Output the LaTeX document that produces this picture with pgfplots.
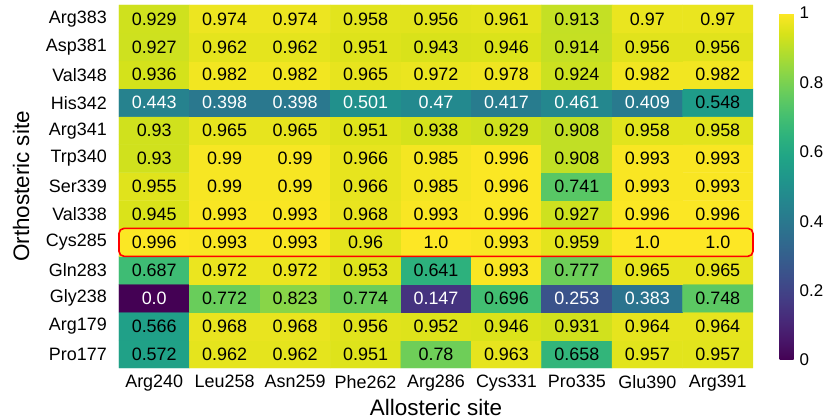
\documentclass[border=0pt]{standalone}
\usepackage{fontspec}
\setmainfont{Liberation Sans}
\usepackage{pgfplots}
\usepackage{pgfplotstable}
\pgfplotsset{compat=1.18}

% full matrix (x = allosteric column, y = orthosteric row from bottom)
\pgfplotstableread{
x y c
0 0 0.572
1 0 0.962
2 0 0.962
3 0 0.951
4 0 0.78
5 0 0.963
6 0 0.658
7 0 0.957
8 0 0.957
0 1 0.566
1 1 0.968
2 1 0.968
3 1 0.956
4 1 0.952
5 1 0.946
6 1 0.931
7 1 0.964
8 1 0.964
0 2 0.0
1 2 0.772
2 2 0.823
3 2 0.774
4 2 0.147
5 2 0.696
6 2 0.253
7 2 0.383
8 2 0.748
0 3 0.687
1 3 0.972
2 3 0.972
3 3 0.953
4 3 0.641
5 3 0.993
6 3 0.777
7 3 0.965
8 3 0.965
0 4 0.996
1 4 0.993
2 4 0.993
3 4 0.96
4 4 1.0
5 4 0.993
6 4 0.959
7 4 1.0
8 4 1.0
0 5 0.945
1 5 0.993
2 5 0.993
3 5 0.968
4 5 0.993
5 5 0.996
6 5 0.927
7 5 0.996
8 5 0.996
0 6 0.955
1 6 0.99
2 6 0.99
3 6 0.966
4 6 0.985
5 6 0.996
6 6 0.741
7 6 0.993
8 6 0.993
0 7 0.93
1 7 0.99
2 7 0.99
3 7 0.966
4 7 0.985
5 7 0.996
6 7 0.908
7 7 0.993
8 7 0.993
0 8 0.93
1 8 0.965
2 8 0.965
3 8 0.951
4 8 0.938
5 8 0.929
6 8 0.908
7 8 0.958
8 8 0.958
0 9 0.443
1 9 0.398
2 9 0.398
3 9 0.501
4 9 0.47
5 9 0.417
6 9 0.461
7 9 0.409
8 9 0.548
0 10 0.936
1 10 0.982
2 10 0.982
3 10 0.965
4 10 0.972
5 10 0.978
6 10 0.924
7 10 0.982
8 10 0.982
0 11 0.927
1 11 0.962
2 11 0.962
3 11 0.951
4 11 0.943
5 11 0.946
6 11 0.914
7 11 0.956
8 11 0.956
0 12 0.929
1 12 0.974
2 12 0.974
3 12 0.958
4 12 0.956
5 12 0.961
6 12 0.913
7 12 0.97
8 12 0.97
}\data

% cells whose value is written in black
\pgfplotstableread{
x y t
0 0 0.572
1 0 0.962
2 0 0.962
3 0 0.951
4 0 0.78
5 0 0.963
6 0 0.658
7 0 0.957
8 0 0.957
0 1 0.566
1 1 0.968
2 1 0.968
3 1 0.956
4 1 0.952
5 1 0.946
6 1 0.931
7 1 0.964
8 1 0.964
1 2 0.772
2 2 0.823
3 2 0.774
5 2 0.696
8 2 0.748
0 3 0.687
1 3 0.972
2 3 0.972
3 3 0.953
4 3 0.641
5 3 0.993
6 3 0.777
7 3 0.965
8 3 0.965
0 4 0.996
1 4 0.993
2 4 0.993
3 4 0.96
4 4 1.0
5 4 0.993
6 4 0.959
7 4 1.0
8 4 1.0
0 5 0.945
1 5 0.993
2 5 0.993
3 5 0.968
4 5 0.993
5 5 0.996
6 5 0.927
7 5 0.996
8 5 0.996
0 6 0.955
1 6 0.99
2 6 0.99
3 6 0.966
4 6 0.985
5 6 0.996
6 6 0.741
7 6 0.993
8 6 0.993
0 7 0.93
1 7 0.99
2 7 0.99
3 7 0.966
4 7 0.985
5 7 0.996
6 7 0.908
7 7 0.993
8 7 0.993
0 8 0.93
1 8 0.965
2 8 0.965
3 8 0.951
4 8 0.938
5 8 0.929
6 8 0.908
7 8 0.958
8 8 0.958
8 9 0.548
0 10 0.936
1 10 0.982
2 10 0.982
3 10 0.965
4 10 0.972
5 10 0.978
6 10 0.924
7 10 0.982
8 10 0.982
0 11 0.927
1 11 0.962
2 11 0.962
3 11 0.951
4 11 0.943
5 11 0.946
6 11 0.914
7 11 0.956
8 11 0.956
0 12 0.929
1 12 0.974
2 12 0.974
3 12 0.958
4 12 0.956
5 12 0.961
6 12 0.913
7 12 0.97
8 12 0.97
}\blacklabels

% cells whose value is written in white
\pgfplotstableread{
x y t
0 2 0.0
4 2 0.147
6 2 0.253
7 2 0.383
0 9 0.443
1 9 0.398
2 9 0.398
3 9 0.501
4 9 0.47
5 9 0.417
6 9 0.461
7 9 0.409
}\whitelabels

\begin{document}
\begin{tikzpicture}
\path[use as bounding box] (-119bp,-51bp) rectangle (709bp,368bp);
\begin{axis}[
  at={(0,0)}, anchor=south west,
  scale only axis, width=634bp, height=363bp,
  xmin=-0.5, xmax=8.5, ymin=-0.5, ymax=12.5,
  enlargelimits=false,
  axis line style={draw=none},
  major tick length=0pt,
  xtick={0,...,8},
  xticklabels={Arg240,Leu258,Asn259,Phe262,Arg286,Cys331,Pro335,Glu390,Arg391},
  ytick={0,...,12},
  yticklabels={Pro177,Arg179,Gly238,Gln283,Cys285,Val338,Ser339,Trp340,Arg341,His342,Val348,Asp381,Arg383},
  ticklabel style={font=\fontsize{18}{18}\selectfont},
  xticklabel style={anchor=north, inner sep=0pt, yshift=-7bp},
  yticklabel style={anchor=east, inner sep=0pt, xshift=-12bp},
  /pgf/number format/assume math mode=true,
  xlabel={Allosteric site},
  ylabel={Orthosteric site},
  every axis x label/.style={at={(axis description cs:0.5,0)}, anchor=north, yshift=-31bp, inner sep=0pt, font=\fontsize{22.5}{22.5}\selectfont},
  every axis y label/.style={at={(axis description cs:-0.141,0.5)}, rotate=90, anchor=south, inner sep=0pt, font=\fontsize{22.5}{22.5}\selectfont},
  colormap/viridis,
  point meta min=0, point meta max=1,
  clip=false,
  colorbar right,
  colorbar style={
    scale only axis,
    at={(parent axis.south east)}, anchor=south west,
    xshift=18bp, yshift=8bp,
    width=24bp, height=347bp,
    axis line style={draw=none},
    major tick length=0pt,
    ytick={0,0.2,0.4,0.6,0.8,1},
    yticklabels={0,0.2,0.4,0.6,0.8,1},
    yticklabel style={anchor=west, inner sep=0pt, xshift=-4bp, font=\fontsize{17}{17}\selectfont},
  },
]
\addplot[matrix plot*, mesh/cols=9, mesh/rows=13, point meta=explicit] table[x=x, y=y, meta=c] {\data};
\addplot[draw=none, mark=none, point meta=explicit symbolic,
  nodes near coords={\pgfplotspointmeta},
  nodes near coords style={anchor=center, inner sep=0pt, text=black, font=\fontsize{18}{18}\selectfont}]
  table[x=x, y=y, meta=t] {\blacklabels};
\addplot[draw=none, mark=none, point meta=explicit symbolic,
  nodes near coords={\pgfplotspointmeta},
  nodes near coords style={anchor=center, inner sep=0pt, text=white, font=\fontsize{18}{18}\selectfont}]
  table[x=x, y=y, meta=t] {\whitelabels};
\draw[red, line width=1.6bp, rounded corners=5bp] (axis cs:-0.5,3.5) rectangle (axis cs:8.5,4.5);
\end{axis}
\end{tikzpicture}
\end{document}
